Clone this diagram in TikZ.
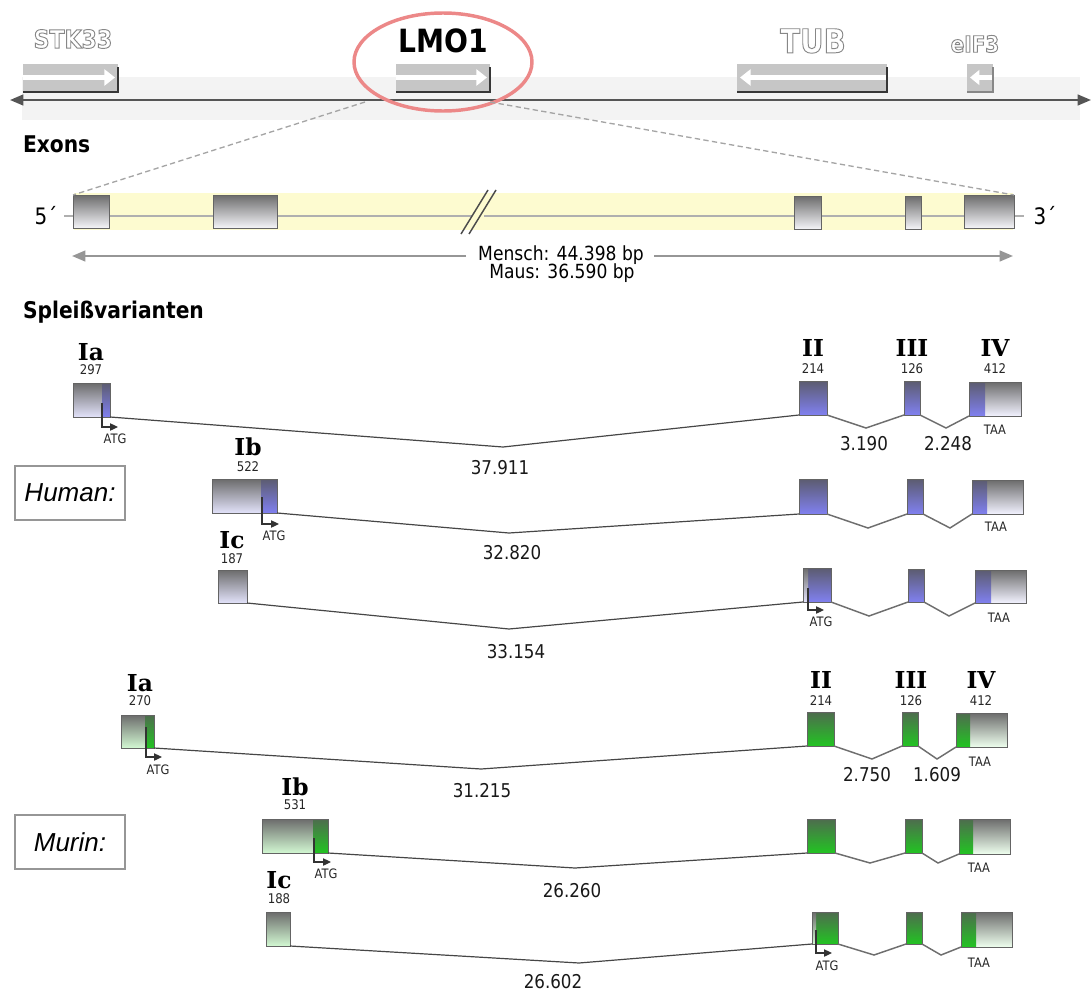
\documentclass[tikz,border=0pt]{standalone}
\usepackage{fontspec}
\setmainfont{DejaVu Sans}[FakeStretch=0.88]
\newfontfamily\serfont{DejaVu Serif}
\newfontfamily\arifont{Liberation Sans}
\usetikzlibrary{arrows.meta}
\definecolor{bandgray}{RGB}{243,243,243}
\definecolor{genegray}{RGB}{198,198,198}
\definecolor{genedark}{RGB}{55,55,55}
\definecolor{axis}{RGB}{85,85,85}
\definecolor{ring}{RGB}{236,136,136}
\definecolor{yband}{RGB}{253,251,208}
\definecolor{exline}{RGB}{175,175,175}
\definecolor{extop}{RGB}{108,108,108}
\definecolor{exbot}{RGB}{244,244,248}
\definecolor{exborder}{RGB}{100,100,100}
\definecolor{hutrbot}{RGB}{226,226,250}
\definecolor{hutrbotb}{RGB}{242,242,255}
\definecolor{hcdstop}{RGB}{92,92,112}
\definecolor{hcdsbot}{RGB}{128,128,240}
\definecolor{mutrbot}{RGB}{210,248,210}
\definecolor{mutrbotb}{RGB}{238,255,238}
\definecolor{mcdstop}{RGB}{78,108,78}
\definecolor{mcdsbot}{RGB}{34,196,34}
\definecolor{intr}{RGB}{70,70,70}
\definecolor{vgray}{RGB}{110,110,110}
\definecolor{sizegray}{RGB}{150,150,150}
\definecolor{outl}{RGB}{135,135,135}
\definecolor{dashgray}{RGB}{165,165,165}
\definecolor{boxgray}{RGB}{150,150,150}

\newcommand\fs[1]{\fontsize{#1pt}{#1pt}\selectfont}
\newcommand\outlined[1]{\special{pdf:literal 1 Tr 0.7 w}#1\special{pdf:literal 0 Tr}}
% exon node: name x1 y1 x2 y2 style
\newcommand\ex[6]{\node[#6, minimum width={(#4-#2)*0.75pt}, minimum height={(#5-#3)*0.75pt}] (#1) at ({(#2+#4)/2},{(#3+#5)/2}) {};}
% exon with strip: name x1 y1 x2 y2 style sx1 sx2 stripstyle
\newcommand\exs[9]{\ex{#1}{#2}{#3}{#4}{#5}{#6}\path[#9] (#7,#3) rectangle (#8,#5);\draw[draw=exborder, line width=0.75pt] (#1.south west) rectangle (#1.north east);}
% gene box top: name x1 x2
\newcommand\geneR[3]{%
 \node[genebox, minimum width={(#3-#2)*0.75pt}] (#1) at ({(#2+#3)/2},78) {};
 \draw[white, line width=3.6pt, -{Triangle[length=8pt,width=12pt]}] (#2,77.5) -- ({#3-3},77.5);
 \draw[genedark, line width=2pt] (#1.south west) -- (#1.south east) -- ([yshift=-2pt]#1.north east);}
\newcommand\geneL[3]{%
 \node[genebox, minimum width={(#3-#2)*0.75pt}] (#1) at ({(#2+#3)/2},78) {};
 \draw[white, line width=3.6pt, -{Triangle[length=8pt,width=12pt]}] (#3,77.5) -- ({#2+3},77.5);
 \draw[genedark, line width=2pt] (#1.south west) -- (#1.south east) -- ([yshift=-2pt]#1.north east);}

\tikzset{
 every node/.style={inner sep=0pt, outer sep=0pt},
 genebox/.style={fill=genegray, minimum height=21pt},
 exonbox/.style={draw=exborder, line width=0.75pt, top color=extop, bottom color=exbot},
 hutr/.style={draw=exborder, line width=0.75pt, top color=extop, bottom color=hutrbot},
 hutrb/.style={draw=exborder, line width=0.75pt, top color=extop, bottom color=hutrbotb},
 hcds/.style={draw=exborder, line width=0.75pt, top color=hcdstop, bottom color=hcdsbot},
 hcdsf/.style={top color=hcdstop, bottom color=hcdsbot},
 hutrf/.style={top color=extop, bottom color=hutrbot},
 mutr/.style={draw=exborder, line width=0.75pt, top color=extop, bottom color=mutrbot},
 mutrb/.style={draw=exborder, line width=0.75pt, top color=extop, bottom color=mutrbotb},
 mcds/.style={draw=exborder, line width=0.75pt, top color=mcdstop, bottom color=mcdsbot},
 mcdsf/.style={top color=mcdstop, bottom color=mcdsbot},
 mutrf/.style={top color=extop, bottom color=mutrbot},
 lab/.style={font=\serfont\bfseries\fs{17.5}},
 num/.style={font=\fs{10}, text=black!85},
 small/.style={font=\fs{9.75}, text=black!85},
 inum/.style={font=\fs{14.25}, text=black!90},
 head/.style={font=\bfseries\fs{17.25}, anchor=west},
 intron/.style={draw=intr, line width=0.9pt},
 vline/.style={draw=vgray, line width=1.1pt},
 atg/.style={draw=black!80, line width=0.9pt, -{Triangle[length=6pt,width=5.5pt]}},
 sizearrow/.style={draw=sizegray, line width=1.6pt, -{Triangle[length=10pt,width=8pt]}},
 spbox/.style={draw=boxgray, line width=1.5pt, minimum width=82.5pt, minimum height=40pt, font=\arifont\itshape\fs{19.5}},
}

\begin{document}
\begin{tikzpicture}[x=0.75pt, y=-0.75pt]
\useasboundingbox (0,0) rectangle (1092,992);

% ---------------- genomic overview ----------------
\fill[bandgray] (22,77) rectangle (1080,120);
\coordinate (axl) at (10,100);
\coordinate (axr) at (1091,100);
\draw[axis, line width=1.6pt, {Triangle[length=10pt,width=8pt]}-{Triangle[length=10pt,width=8pt]}] (axl) -- (axr);

\geneR{stk}{23}{118}
\geneR{lmo}{396}{490}
\geneL{tub}{737}{887}
\node[genebox, minimum width={26*0.75pt}] (eif) at (980,78) {};
\draw[white, line width=3.6pt, -{Triangle[length=7pt,width=11pt]}] (993,77.5) -- (970,77.5);
\draw[genedark!60, line width=1.5pt] (eif.south west) -- (eif.south east) -- ([yshift=-2pt]eif.north east);

\node[font=\bfseries\fs{18.75}, text=outl] (stklab) at (73,39) {\outlined{STK33}};
\node[font=\bfseries\fs{24.75}, text=outl] (tublab) at (813,41) {\outlined{TUB}};
\node[font=\bfseries\fs{17}, text=outl] (eiflab) at (975,44) {\outlined{eIF3}};
\node[font=\bfseries\fs{24}] (lmolab) at (443,41) {LMO1};
\draw[ring, line width=2.6pt] (443,62) ellipse [x radius=89, y radius=49];

% zoom lines
\coordinate (zl) at (365,102);
\coordinate (zr) at (490,102);

% ---------------- Exons ----------------
\node[head] (exhead) at (23,144) {Exons};
\fill[yband] (74,193) rectangle (1013,230);
\coordinate (gl) at (64,216);
\coordinate (gb1) at (472,216);
\coordinate (gb2) at (484,216);
\coordinate (gr) at (1024,216);
\draw[exline, line width=1.6pt] (gl) -- (gb1);
\draw[exline, line width=1.6pt] (gb2) -- (gr);
\draw[black!70, line width=1.1pt] (461,234) -- (488,190);
\draw[black!70, line width=1.1pt] (469,234) -- (496,190);
\ex{e1}{73}{195}{109}{228}{exonbox}
\ex{e2}{213}{195}{277}{228}{exonbox}
\ex{e3}{794}{196}{821}{229}{exonbox}
\ex{e4}{905}{196}{921}{229}{exonbox}
\ex{e5}{964}{195}{1014}{228}{exonbox}
\draw[dashgray, line width=1pt, dash pattern=on 4pt off 2.5pt] (zl) -- (e1.north west);
\draw[dashgray, line width=1pt, dash pattern=on 4pt off 2.5pt] (zr) -- (e5.north east);
\node[font=\fs{17}] (five) at (46,216) {5´};
\node[font=\fs{17}] (three) at (1045,216) {3´};

\node[font=\fs{14.6}] (mensch) at (561,255) {Mensch: 44.398 bp};
\node[font=\fs{14.6}] (maus) at (562,273) {Maus: 36.590 bp};
\coordinate (sl) at (72,256);
\coordinate (sr) at (1013,256);
\draw[sizearrow] ([xshift=-9pt]mensch.west |- sl) -- (sl);
\draw[sizearrow] ([xshift=8pt]mensch.east |- sr) -- (sr);

% ---------------- Spleissvarianten ----------------
\node[head] (sphead) at (23,312) {Spleißvarianten};

% ===== Human =====
\node[spbox] (human) at (70,493) {Human:};

% row 1
\exs{hIa}{73}{383}{110}{417}{hutr}{102}{110}{hcdsf}
\node[lab] (lhIa) at (91,352) {Ia};
\node[num] (nhIa) at (91,370) {297};
\draw[atg] (102,403) |- (118,427);
\node[small] (ahIa) at (115,439) {ATG};
\ex{hII}{799}{381}{827}{415}{hcds}
\ex{hIII}{904}{381}{920}{415}{hcds}
\exs{hIV}{969}{382}{1021}{416}{hutrb}{969}{985}{hcdsf}
\node[lab] (lhII) at (813,348) {II};
\node[num] (nhII) at (813,369) {214};
\node[lab] (lhIII) at (912,348) {III};
\node[num] (nhIII) at (912,369) {126};
\node[lab] (lhIV) at (995,348) {IV};
\node[num] (nhIV) at (995,369) {412};
\coordinate (hv1) at (503,447);
\draw[intron] (hIa.south east) -- (hv1) -- (hII.south west);
\coordinate (hv2) at (866,428);
\coordinate (hv3) at (946,428);
\draw[vline] (hII.south east) -- (hv2) -- (hIII.south west);
\draw[vline] (hIII.south east) -- (hv3) -- (hIV.south west);
\node[inum] (ih1) at (500,468) {37.911};
\node[inum] (ih2) at (864,444) {3.190};
\node[inum] (ih3) at (948,444) {2.248};
\node[small] (thIV) at (995,430) {TAA};

% row 2
\exs{hIb}{212}{479}{277}{513}{hutr}{261}{277}{hcdsf}
\node[lab] (lhIb) at (248,447) {Ib};
\node[num] (nhIb) at (248,467) {522};
\draw[atg] (262,497) |- (279,524);
\node[small] (ahIb) at (274,536) {ATG};
\ex{hII2}{799}{479}{827}{514}{hcds}
\ex{hIII2}{907}{479}{923}{514}{hcds}
\exs{hIV2}{972}{480}{1023}{514}{hutrb}{972}{987}{hcdsf}
\coordinate (hv4) at (509,533);
\draw[intron] (hIb.south east) -- (hv4) -- (hII2.south west);
\coordinate (hv5) at (868,528);
\coordinate (hv6) at (950,528);
\draw[vline] (hII2.south east) -- (hv5) -- (hIII2.south west);
\draw[vline] (hIII2.south east) -- (hv6) -- (hIV2.south west);
\node[inum] (ih4) at (512,553) {32.820};
\node[small] (thIV2) at (996,527) {TAA};

% row 3
\ex{hIc}{218}{570}{247}{603}{hutr}
\node[lab] (lhIc) at (232,540) {Ic};
\node[num] (nhIc) at (232,559) {187};
\exs{hII3}{803}{568}{831}{602}{hcds}{803}{808}{hutrf}
\draw[atg] (808,588) |- (824,610);
\node[small] (ahII3) at (821,622) {ATG};
\ex{hIII3}{908}{569}{924}{602}{hcds}
\exs{hIV3}{975}{570}{1026}{603}{hutrb}{975}{991}{hcdsf}
\coordinate (hv7) at (509,629);
\draw[intron] (hIc.south east) -- (hv7) -- (hII3.south west);
\coordinate (hv8) at (869,616);
\coordinate (hv9) at (949,616);
\draw[vline] (hII3.south east) -- (hv8) -- (hIII3.south west);
\draw[vline] (hIII3.south east) -- (hv9) -- (hIV3.south west);
\node[inum] (ih5) at (516,652) {33.154};
\node[small] (thIV3) at (999,618) {TAA};

% ===== Murin =====
\node[spbox] (murin) at (70,842) {Murin:};

% row 1
\exs{mIa}{121}{715}{154}{748}{mutr}{145}{154}{mcdsf}
\node[lab] (lmIa) at (140,683) {Ia};
\node[num] (nmIa) at (140,701) {270};
\draw[atg] (146,727) |- (162,757);
\node[small] (amIa) at (158,770) {ATG};
\ex{mII}{807}{712}{834}{746}{mcds}
\ex{mIII}{902}{712}{918}{746}{mcds}
\exs{mIV}{956}{713}{1007}{747}{mutrb}{956}{970}{mcdsf}
\node[lab] (lmII) at (821,680) {II};
\node[num] (nmII) at (821,701) {214};
\node[lab] (lmIII) at (911,680) {III};
\node[num] (nmIII) at (911,701) {126};
\node[lab] (lmIV) at (981,680) {IV};
\node[num] (nmIV) at (981,701) {412};
\coordinate (mv1) at (481,769);
\draw[intron] (mIa.south east) -- (mv1) -- (mII.south west);
\coordinate (mv2) at (872,759);
\coordinate (mv3) at (937,759);
\draw[vline] (mII.south east) -- (mv2) -- (mIII.south west);
\draw[vline] (mIII.south east) -- (mv3) -- (mIV.south west);
\node[inum] (im1) at (482,791) {31.215};
\node[inum] (im2) at (867,775) {2.750};
\node[inum] (im3) at (937,775) {1.609};
\node[small] (tmIV) at (980,762) {TAA};

% row 2
\exs{mIb}{262}{819}{328}{853}{mutr}{313}{328}{mcdsf}
\node[lab] (lmIb) at (295,787) {Ib};
\node[num] (nmIb) at (295,805) {531};
\draw[atg] (314,838) |- (331,862);
\node[small] (amIb) at (326,874) {ATG};
\ex{mII2}{807}{819}{835}{853}{mcds}
\ex{mIII2}{905}{819}{922}{853}{mcds}
\exs{mIV2}{959}{819}{1010}{854}{mutrb}{959}{973}{mcdsf}
\coordinate (mv4) at (575,868);
\draw[intron] (mIb.south east) -- (mv4) -- (mII2.south west);
\coordinate (mv5) at (870,863);
\coordinate (mv6) at (938,863);
\draw[vline] (mII2.south east) -- (mv5) -- (mIII2.south west);
\draw[vline] (mIII2.south east) -- (mv6) -- (mIV2.south west);
\node[inum] (im4) at (572,891) {26.260};
\node[small] (tmIV2) at (979,868) {TAA};

% row 3
\ex{mIc}{266}{912}{290}{946}{mutr}
\node[lab] (lmIc) at (279,880) {Ic};
\node[num] (nmIc) at (279,899) {188};
\exs{mII3}{812}{912}{838}{944}{mcds}{812}{816}{mutrf}
\draw[atg] (816,930) |- (832,953);
\node[small] (amII3) at (827,966) {ATG};
\ex{mIII3}{906}{912}{922}{944}{mcds}
\exs{mIV3}{961}{912}{1012}{947}{mutrb}{961}{976}{mcdsf}
\coordinate (mv7) at (579,963);
\draw[intron] (mIc.south east) -- (mv7) -- (mII3.south west);
\coordinate (mv8) at (874,955);
\coordinate (mv9) at (941,955);
\draw[vline] (mII3.south east) -- (mv8) -- (mIII3.south west);
\draw[vline] (mIII3.south east) -- (mv9) -- (mIV3.south west);
\node[inum] (im5) at (553,982) {26.602};
\node[small] (tmIV3) at (979,963) {TAA};
\end{tikzpicture}
\end{document}
